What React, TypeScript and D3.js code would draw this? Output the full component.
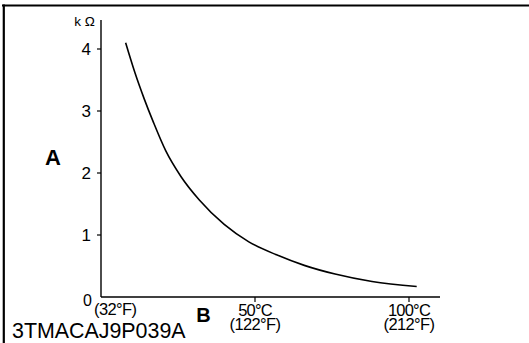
import React from "react";
import * as d3 from "d3";

// Temperature (°C) vs resistance (kΩ)
const temps = [8, 11, 14, 17, 21, 26, 32, 40, 48, 57, 66, 76, 88, 102.5];
const resist = [4.1, 3.62, 3.2, 2.82, 2.36, 1.94, 1.56, 1.17, 0.89, 0.68, 0.51, 0.37, 0.25, 0.17];

const yTicks = [1, 2, 3, 4];
const xTicks = [50, 100];
const xTickC = ["50°C", "100°C"];
const xTickF = ["(122°F)", "(212°F)"];

const W = 529;
const H = 343;
const FONT = "'Liberation Sans', Arial, Helvetica, sans-serif";

export default function App() {
  const x = d3.scaleLinear().domain([0, 100]).range([101, 409]);
  const y = d3.scaleLinear().domain([0, 4]).range([297, 49]);
  const pts: [number, number][] = temps.map((t, i) => [t, resist[i]]);
  const line = d3
    .line<[number, number]>()
    .x((d) => x(d[0]))
    .y((d) => y(d[1]))
    .curve(d3.curveMonotoneX);

  return (
    <svg
      width={W}
      height={H}
      style={{ position: "absolute", left: 0, top: 0, background: "#fff" }}
      fontFamily={FONT}
    >
      {/* frame */}
      <line x1={2} x2={W} y1={5.5} y2={5.5} stroke="#000" strokeWidth={2.2} />
      <line x1={3.8} x2={3.8} y1={4.5} y2={H} stroke="#000" strokeWidth={2.2} />

      {/* axes */}
      <line x1={101} x2={101} y1={20} y2={297} stroke="#000" strokeWidth={1.4} />
      <line x1={101} x2={440} y1={297} y2={297} stroke="#000" strokeWidth={1.4} />

      {yTicks.map((t) => (
        <g key={t}>
          <line x1={97} x2={101} y1={y(t)} y2={y(t)} stroke="#000" strokeWidth={1.2} />
          <text x={91} y={y(t) + 6} fontSize={17} textAnchor="end" fill="#000">
            {t}
          </text>
        </g>
      ))}
      <text x={87.5} y={305.5} fontSize={16} textAnchor="middle" fill="#000">0</text>
      <text x={94} y={315} fontSize={16.5} letterSpacing={-0.6} fill="#000">(32°F)</text>

      <text x={84.5} y={26} fontSize={13.5} textAnchor="middle" fill="#000">k Ω</text>

      {xTicks.map((t, i) => (
        <g key={t}>
          <line x1={x(t)} x2={x(t)} y1={297} y2={302} stroke="#000" strokeWidth={1.2} />
          <text x={x(t)} y={315.5} fontSize={16.5} letterSpacing={-0.8} textAnchor="middle" fill="#000">
            {xTickC[i]}
          </text>
          <text x={x(t)} y={330} fontSize={16.5} letterSpacing={-0.6} textAnchor="middle" fill="#000">
            {xTickF[i]}
          </text>
        </g>
      ))}

      <text x={53} y={165} fontSize={22} fontWeight="bold" textAnchor="middle" fill="#000">A</text>
      <text x={203.5} y={322} fontSize={20} fontWeight="bold" textAnchor="middle" fill="#000">B</text>
      <text x={12} y={338} fontSize={21.4} fill="#000">3TMACAJ9P039A</text>

      <path d={line(pts) ?? ""} fill="none" stroke="#000" strokeWidth={1.6} />
    </svg>
  );
}
